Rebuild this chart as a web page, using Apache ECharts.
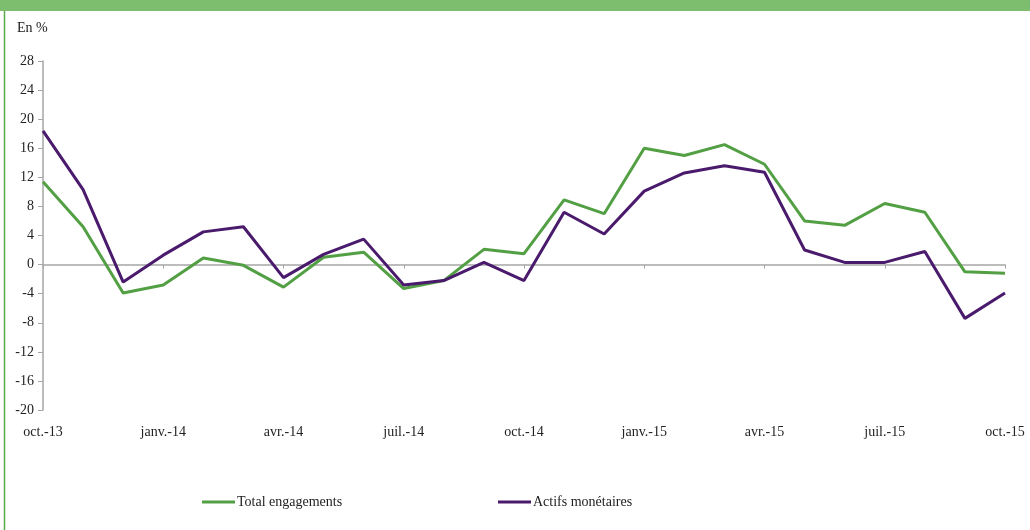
<!DOCTYPE html>
<html>
<head>
<meta charset="utf-8">
<script src="https://cdn.jsdelivr.net/npm/echarts@6/dist/echarts.min.js"></script>
<style>
  html, body { margin: 0; padding: 0; background: #fff; }
  #chart { width: 1030px; height: 530px; }
</style>
</head>
<body>
<div id="chart"></div>
<script>
// Monthly, oct. 2013 -> oct. 2015
const months = [
  "oct.-13", "nov.-13", "déc.-13", "janv.-14", "févr.-14", "mars-14",
  "avr.-14", "mai-14", "juin-14", "juil.-14", "août-14", "sept.-14",
  "oct.-14", "nov.-14", "déc.-14", "janv.-15", "févr.-15", "mars-15",
  "avr.-15", "mai-15", "juin-15", "juil.-15", "août-15", "sept.-15", "oct.-15"
];

const totalEngagements = [
  11.4, 5.2, -3.9, -2.8, 0.9, -0.1, -3.1, 1.0, 1.7, -3.3, -2.2, 2.1,
  1.5, 8.9, 7.0, 16.0, 15.0, 16.5, 13.8, 6.0, 5.4, 8.4, 7.2, -1.0, -1.2
];

const actifsMonetaires = [
  18.4, 10.3, -2.4, 1.3, 4.5, 5.2, -1.8, 1.4, 3.5, -2.8, -2.2, 0.3,
  -2.2, 7.2, 4.2, 10.1, 12.6, 13.6, 12.7, 2.0, 0.3, 0.3, 1.8, -7.4, -3.9
];

const GREEN = "#529f44";
const PURPLE = "#4a1a6c";
const AXIS = "#a6a6a6";
const FONT = "Liberation Serif";

const chart = echarts.init(document.getElementById("chart"));

const legendText = { fontFamily: FONT, fontSize: 14, color: "#222", padding: [0, 0, 0, -3] };

const option = {
  animation: false,
  textStyle: { fontFamily: FONT },
  graphic: [
    { type: "rect", left: 0, top: 0, shape: { width: 1030, height: 11 }, style: { fill: "#7dbd6e" } },
    { type: "line", shape: { x1: 4.5, y1: 11, x2: 4.5, y2: 530 }, style: { stroke: "#5aaa4a", lineWidth: 1.5 } },
    { type: "text", left: 17, top: 21, style: { text: "En %", font: "14px " + FONT, fill: "#222" } }
  ],
  grid: { left: 43, right: 25, top: 61, bottom: 120, containLabel: false },
  legend: [
    {
      left: 202, top: 495, padding: 0, data: ["Total engagements"], icon: "rect",
      itemWidth: 33, itemHeight: 3, itemGap: 0, textStyle: legendText
    },
    {
      left: 498, top: 495, padding: 0, data: ["Actifs monétaires"], icon: "rect",
      itemWidth: 33, itemHeight: 3, itemGap: 0, textStyle: legendText
    }
  ],
  xAxis: [
    {
      type: "category",
      data: months,
      boundaryGap: false,
      axisLine: { onZero: true, lineStyle: { color: AXIS, width: 1.5 } },
      axisTick: { interval: 2, length: 4, lineStyle: { color: AXIS } },
      axisLabel: { show: false }
    },
    {
      type: "category",
      data: months,
      boundaryGap: false,
      position: "bottom",
      axisLine: { show: false, onZero: false },
      axisTick: { show: false },
      axisLabel: {
        interval: 2, margin: 15,
        fontFamily: FONT, fontSize: 14, color: "#222"
      }
    }
  ],
  yAxis: {
    type: "value",
    min: -20,
    max: 28,
    interval: 4,
    axisLine: { show: true, lineStyle: { color: AXIS, width: 1.5 } },
    axisTick: { show: true, length: 5, lineStyle: { color: AXIS } },
    splitLine: { show: false },
    axisLabel: { margin: 9, fontFamily: FONT, fontSize: 14, color: "#222" }
  },
  series: [
    {
      name: "Total engagements",
      type: "line",
      data: totalEngagements,
      symbol: "none",
      lineStyle: { color: GREEN, width: 3 },
      itemStyle: { color: GREEN }
    },
    {
      name: "Actifs monétaires",
      type: "line",
      data: actifsMonetaires,
      symbol: "none",
      lineStyle: { color: PURPLE, width: 3 },
      itemStyle: { color: PURPLE }
    }
  ]
};

chart.setOption(option);
</script>
</body>
</html>
